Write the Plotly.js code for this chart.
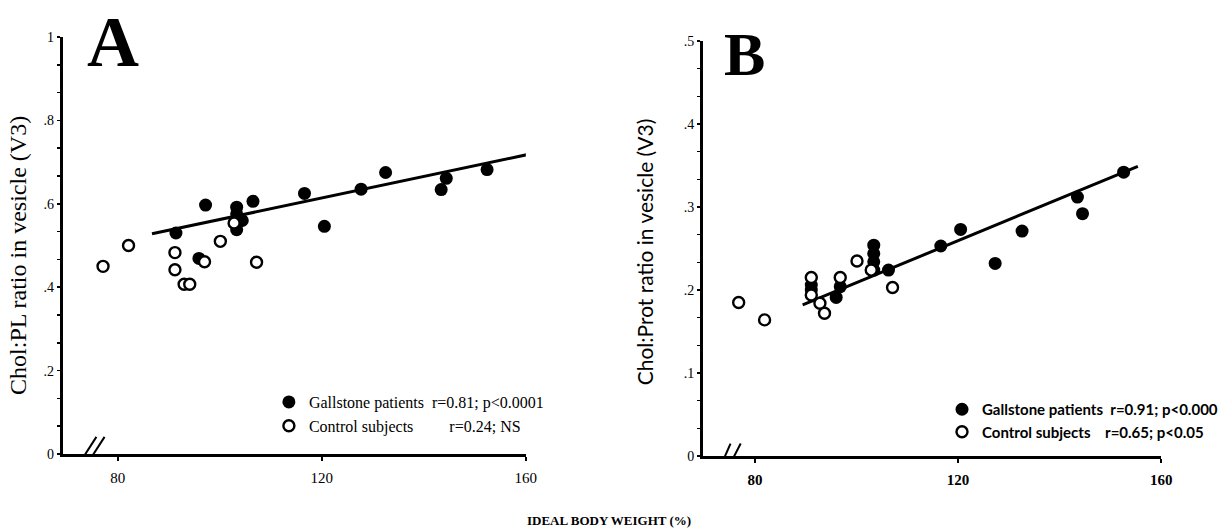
<!DOCTYPE html>
<html>
<head>
<meta charset="utf-8">
<script src="https://cdn.plot.ly/plotly-3.0.1.min.js"></script>
<style>html,body{margin:0;padding:0;background:#fff;}#chart{width:1223px;height:531px;}</style>
</head>
<body>
<div id="chart"></div>
<script>
// ---------- Panel A data (Chol:PL ratio vs ideal body weight) ----------
const A_gall_x = [91.4, 97.2, 95.9, 103.3, 103.3, 103.3, 104.4, 103.3, 106.5, 116.6, 120.5, 127.7, 132.5, 143.4, 144.4, 152.4];
const A_gall_y = [0.530, 0.597, 0.469, 0.592, 0.576, 0.560, 0.560, 0.538, 0.606, 0.625, 0.546, 0.635, 0.675, 0.634, 0.661, 0.682];
const A_ctrl_x = [77.1, 82.1, 91.2, 91.2, 93.0, 94.1, 97.0, 100.1, 102.8, 107.2];
const A_ctrl_y = [0.450, 0.500, 0.483, 0.442, 0.407, 0.407, 0.461, 0.510, 0.554, 0.460];
const A_fit_x = [86.7, 160.7];
const A_fit_y = [0.528, 0.719];
const A_ytickvals = [0, 0.2, 0.4, 0.6, 0.8, 1];
const A_yticktext = ['0', '.2', '.4', '.6', '.8', '1'];
const A_gall_name = 'Gallstone patients\u00a0\u00a0r=0.81; p<0.0001';
const A_ctrl_name = 'Control subjects\u00a0\u00a0\u00a0\u00a0\u00a0\u00a0\u00a0\u00a0\u00a0r=0.24; NS';

// ---------- Panel B data (Chol:Prot ratio vs ideal body weight) ----------
const B_gall_x = [91.1, 91.1, 96.0, 96.8, 103.4, 103.4, 103.4, 103.4, 106.3, 116.6, 120.5, 127.3, 132.6, 143.5, 144.5, 152.6];
const B_gall_y = [0.206, 0.200, 0.191, 0.204, 0.254, 0.244, 0.234, 0.224, 0.224, 0.253, 0.273, 0.232, 0.271, 0.312, 0.292, 0.342];
const B_ctrl_x = [76.8, 81.9, 91.1, 91.1, 92.8, 93.7, 96.8, 100.1, 102.9, 107.1];
const B_ctrl_y = [0.185, 0.164, 0.215, 0.194, 0.184, 0.172, 0.215, 0.235, 0.224, 0.203];
const B_fit_x = [89.4, 155.4];
const B_fit_y = [0.182, 0.349];
const B_ytickvals = [0, 0.1, 0.2, 0.3, 0.4, 0.5];
const B_yticktext = ['0', '.1', '.2', '.3', '.4', '.5'];
const B_gall_name = 'Gallstone patients\u00a0\u00a0r=0.91; p<0.000';
const B_ctrl_name = 'Control subjects\u00a0\u00a0\u00a0\u00a0r=0.65; p<0.05';

const xtickvals = [80, 120, 160];
const xticktext = ['80', '120', '160'];

const SERIF = '"Liberation Serif", "Times New Roman", serif';
const SANS = 'Lato, "Liberation Sans", sans-serif';

const filled = {symbol: 'circle', size: 13, color: '#000', line: {color: '#000', width: 0}};
const open = {symbol: 'circle', size: 11, color: '#fff', line: {color: '#000', width: 2.4}};

const traces = [
  {x: A_fit_x, y: A_fit_y, mode: 'lines', line: {color: '#000', width: 3}, showlegend: false, xaxis: 'x', yaxis: 'y', hoverinfo: 'skip'},
  {x: A_gall_x, y: A_gall_y, mode: 'markers', marker: filled, name: A_gall_name, xaxis: 'x', yaxis: 'y', legend: 'legend'},
  {x: A_ctrl_x, y: A_ctrl_y, mode: 'markers', marker: open, name: A_ctrl_name, xaxis: 'x', yaxis: 'y', legend: 'legend'},
  {x: B_fit_x, y: B_fit_y, mode: 'lines', line: {color: '#000', width: 3}, showlegend: false, xaxis: 'x2', yaxis: 'y2', hoverinfo: 'skip'},
  {x: B_gall_x, y: B_gall_y, mode: 'markers', marker: filled, name: B_gall_name, xaxis: 'x2', yaxis: 'y2', legend: 'legend2'},
  {x: B_ctrl_x, y: B_ctrl_y, mode: 'markers', marker: open, name: B_ctrl_name, xaxis: 'x2', yaxis: 'y2', legend: 'legend2'}
];

function xax(domain, range, anchor, font) {
  return {
    domain: domain, range: range, anchor: anchor,
    showgrid: false, zeroline: false, showline: true, linecolor: '#000', linewidth: 3,
    ticks: 'outside', ticklen: 4, tickwidth: 2, tickcolor: '#000',
    tickmode: 'array', tickvals: xtickvals, ticktext: xticktext, ticklabelstandoff: 4,
    tickfont: font, fixedrange: true
  };
}
function yax(domain, range, anchor, vals, text, dminor, font) {
  return {
    domain: domain, range: range, anchor: anchor,
    showgrid: false, zeroline: false, showline: true, linecolor: '#000', linewidth: 3,
    ticks: 'outside', ticklen: 3, tickwidth: 1.5, tickcolor: '#000',
    tickmode: 'array', tickvals: vals, ticktext: text, ticklabelstandoff: 0,
    minor: {tick0: 0, dtick: dminor, ticks: 'outside', ticklen: 3, tickwidth: 1.5, tickcolor: '#000'},
    tickfont: font, fixedrange: true
  };
}

const W = 1223, H = 531;
const A_left = 63, A_right = 528, A_bottom = 454, A_top = 37;
const B_left = 706, B_right = 1166, B_bottom = 456, B_top = 41;

const layout = {
  width: W, height: H,
  margin: {l: 0, r: 0, t: 0, b: 0},
  paper_bgcolor: '#fff', plot_bgcolor: 'rgba(0,0,0,0)',
  showlegend: true,
  xaxis: xax([A_left / W, A_right / W], [69.2, 160], 'y', {family: SERIF, size: 15, color: '#000'}),
  yaxis: yax([(H - A_bottom) / H, (H - A_top) / H], [0, 1], 'x', A_ytickvals, A_yticktext, 0.2 / 3, {family: SERIF, size: 14, color: '#000'}),
  xaxis2: xax([B_left / W, B_right / W], [69.8, 160], 'y2', {family: SERIF, size: 15, color: '#000', weight: 'bold'}),
  yaxis2: yax([(H - B_bottom) / H, (H - B_top) / H], [0, 0.5], 'x2', B_ytickvals, B_yticktext, 0.1 / 3, {family: SERIF, size: 14, color: '#000'}),
  legend: {x: 270 / W, y: (H - 385) / H, xanchor: 'left', yanchor: 'top', bgcolor: 'rgba(0,0,0,0)',
           font: {family: SERIF, size: 16, color: '#000'}, itemwidth: 30, tracegroupgap: 0},
  legend2: {x: 946 / W, y: (H - 393) / H, xanchor: 'left', yanchor: 'top', bgcolor: 'rgba(0,0,0,0)',
            font: {family: SANS, size: 15, color: '#000', weight: 'bold'}, itemwidth: 30, tracegroupgap: 0},
  shapes: [
    // axis breaks
    {type: 'line', xref: 'x', yref: 'y', x0: 72.9, y0: -0.014, x1: 75.8, y1: 0.041, line: {color: '#000', width: 2}},
    {type: 'line', xref: 'x', yref: 'y', x0: 74.5, y0: -0.014, x1: 77.4, y1: 0.041, line: {color: '#000', width: 2}},
    {type: 'line', xref: 'x2', yref: 'y2', x0: 72.9, y0: -0.017, x1: 75.2, y1: 0.015, line: {color: '#000', width: 2}},
    {type: 'line', xref: 'x2', yref: 'y2', x0: 74.5, y0: -0.017, x1: 77.2, y1: 0.015, line: {color: '#000', width: 2}}
  ],
  annotations: [
    {text: 'A', xref: 'paper', yref: 'paper', x: 85 / W, y: 1, xanchor: 'left', yanchor: 'top', showarrow: false,
     font: {family: SERIF, size: 72, color: '#000', weight: 'bold'}},
    {text: 'B', xref: 'paper', yref: 'paper', x: 725 / W, y: (H - 18) / H, xanchor: 'left', yanchor: 'top', showarrow: false,
     font: {family: SERIF, size: 62, color: '#000', weight: 'bold'}},
    {text: 'Chol:PL ratio in vesicle (V3)', xref: 'paper', yref: 'paper', x: 18 / W, y: (H - 255) / H, textangle: -90,
     xanchor: 'center', yanchor: 'middle', showarrow: false, font: {family: SERIF, size: 24, color: '#000'}},
    {text: 'Chol:Prot ratio in vesicle (V3)', xref: 'paper', yref: 'paper', x: 648 / W, y: (H - 252) / H, textangle: -90,
     xanchor: 'center', yanchor: 'middle', showarrow: false, font: {family: SANS, size: 21, color: '#000'}},
    {text: 'IDEAL BODY WEIGHT (%)', xref: 'paper', yref: 'paper', x: 612 / W, y: (H - 520) / H,
     xanchor: 'center', yanchor: 'middle', showarrow: false, font: {family: SERIF, size: 13, color: '#000', weight: 'bold'}}
  ]
};

Plotly.newPlot('chart', traces, layout, {displayModeBar: false, staticPlot: true});
</script>
</body>
</html>
